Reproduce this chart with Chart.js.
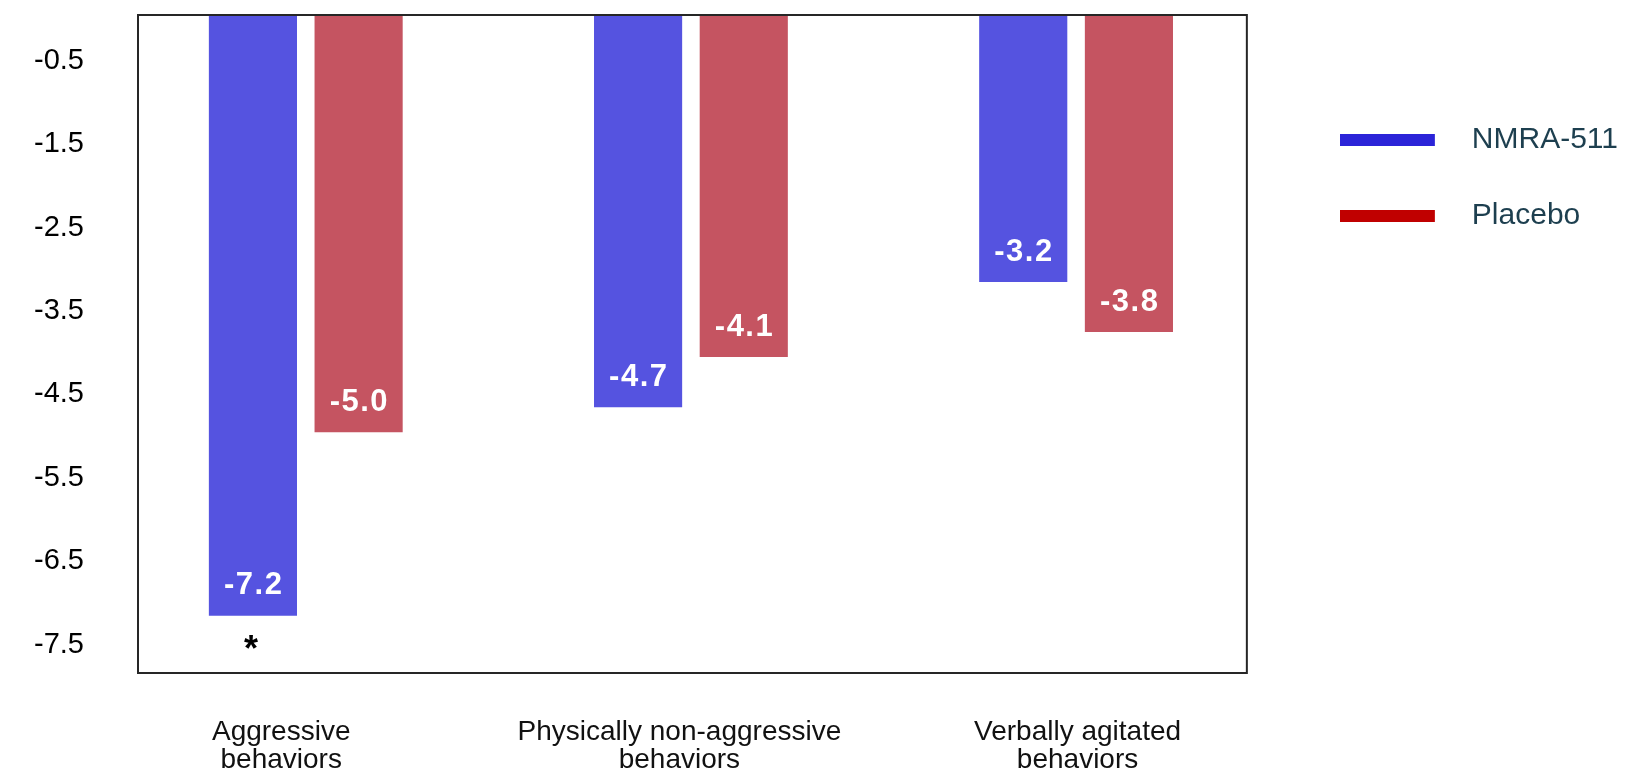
<!DOCTYPE html>
<html>
<head>
<meta charset="utf-8">
<style>
  html, body { margin: 0; padding: 0; background: #fff; }
  #wrap { width: 1633px; height: 776px; }
</style>
<script src="https://cdn.jsdelivr.net/npm/chart.js@4.4.1/dist/chart.umd.min.js"></script>
</head>
<body>
<div id="wrap"><canvas id="chart" width="1633" height="776"></canvas></div>
<script>
// chart values
const categories = [
  ['Aggressive', 'behaviors'],
  ['Physically non-aggressive', 'behaviors'],
  ['Verbally agitated', 'behaviors']
];
const seriesNames = ['NMRA-511', 'Placebo'];
const nmraValues = [-7.2, -4.7, -3.2];
const placeboValues = [-5.0, -4.1, -3.8];
const nmraMarks = ['*', '', ''];
const yTickValues = [-0.5, -1.5, -2.5, -3.5, -4.5, -5.5, -6.5, -7.5];

const barColors = ['#5553e0', '#c55461'];
const legendColors = ['#2b24d8', '#c00000'];
const FONT = '"Liberation Sans", Arial, sans-serif';

// legend swatch: a flat bar with a gap before the text
function swatch(color) {
  const c = document.createElement('canvas');
  c.width = 117;
  c.height = 12;
  const g = c.getContext('2d');
  g.fillStyle = color;
  g.fillRect(0, 0, 95, 12);
  return c;
}
const swatches = legendColors.map(swatch);

const toPoints = (vals) => vals.map((v, i) => ({ x: i, y: v }));

// white value labels inside the bar ends + significance mark
const valueLabels = {
  id: 'valueLabels',
  afterDatasetsDraw(chart) {
    const ctx = chart.ctx;
    ctx.save();
    ctx.textAlign = 'center';
    chart.data.datasets.forEach((ds, di) => {
      chart.getDatasetMeta(di).data.forEach((bar, i) => {
        ctx.font = 'bold 31px ' + FONT;
        ctx.letterSpacing = '1.5px';
        ctx.textBaseline = 'middle';
        ctx.fillStyle = '#ffffff';
        ctx.fillText(ds.data[i].y.toFixed(1), bar.x + 0.75, bar.y - 30);

        const mark = ds.marks ? ds.marks[i] : '';
        if (mark) {
          ctx.letterSpacing = '0px';
          ctx.font = 'bold 36px ' + FONT;
          ctx.textBaseline = 'alphabetic';
          ctx.fillStyle = '#000000';
          ctx.fillText(mark, bar.x - 2, bar.y + 45);
        }
      });
    });
    ctx.restore();
  }
};

// box round the plot area
const plotFrame = {
  id: 'plotFrame',
  afterDraw(chart) {
    const { ctx, chartArea: a } = chart;
    ctx.save();
    ctx.strokeStyle = '#262626';
    ctx.lineWidth = 2;
    ctx.strokeRect(a.left, a.top, a.right - a.left, a.bottom - a.top);
    ctx.restore();
  }
};

new Chart(document.getElementById('chart'), {
  type: 'bar',
  data: {
    datasets: [
      { label: seriesNames[0], data: toPoints(nmraValues), backgroundColor: barColors[0], marks: nmraMarks },
      { label: seriesNames[1], data: toPoints(placeboValues), backgroundColor: barColors[1] }
    ]
  },
  options: {
    responsive: false,
    animation: false,
    devicePixelRatio: 1,
    events: [],
    categoryPercentage: 0.5488,
    barPercentage: 0.834,
    layout: { padding: { top: 15, right: 5, bottom: 0, left: 0 } },
    scales: {
      x: {
        type: 'linear',
        display: false,
        offset: false,
        min: -0.4356,
        max: 2.4434,
        afterBuildTicks: (s) => { s.ticks = [0, 1, 2].map((v) => ({ value: v })); }
      },
      xLabels: {
        type: 'linear',
        position: 'bottom',
        offset: false,
        min: -0.3597,
        max: 2.4252,
        grid: { display: false, drawTicks: true, tickLength: 45 },
        border: { display: false },
        afterBuildTicks: (s) => { s.ticks = categories.map((c, i) => ({ value: i })); },
        afterFit: (s) => { s.height = 103; },
        ticks: {
          autoSkip: false,
          maxRotation: 0,
          minRotation: 0,
          padding: 0,
          color: '#111111',
          font: { family: FONT, size: 28, lineHeight: '28px' },
          callback: (v) => categories[v]
        }
      },
      y: {
        min: -7.886,
        max: 0,
        grid: { display: false, drawTicks: true, tickLength: 54 },
        border: { display: false },
        afterBuildTicks: (s) => { s.ticks = yTickValues.map((v) => ({ value: v })); },
        afterFit: (s) => { s.width = 138; },
        ticks: {
          autoSkip: false,
          padding: 0,
          labelOffset: 4,
          color: '#000000',
          font: { family: FONT, size: 29, lineHeight: 1 },
          callback: (v) => v.toFixed(1)
        }
      },
      yGap: {
        type: 'linear',
        position: 'right',
        display: true,
        grid: { display: false, drawTicks: false },
        border: { display: false },
        ticks: { display: false },
        afterFit: (s) => { s.width = 47; }
      }
    },
    plugins: {
      title: { display: false },
      tooltip: { enabled: false },
      legend: {
        position: 'right',
        align: 'start',
        maxWidth: 336,
        title: { display: true, text: '', font: { size: 10, lineHeight: 1 }, padding: { top: 54, bottom: 0 } },
        labels: {
          usePointStyle: true,
          pointStyleWidth: 117,
          padding: 46,
          color: '#1d3f4f',
          font: { family: FONT, size: 30 },
          generateLabels: (chart) => chart.data.datasets.map((ds, i) => ({
            text: ds.label,
            pointStyle: swatches[i],
            fillStyle: legendColors[i],
            strokeStyle: legendColors[i],
            lineWidth: 0,
            fontColor: '#1d3f4f',
            hidden: false,
            datasetIndex: i
          }))
        }
      }
    }
  },
  plugins: [valueLabels, plotFrame]
});
</script>
</body>
</html>
